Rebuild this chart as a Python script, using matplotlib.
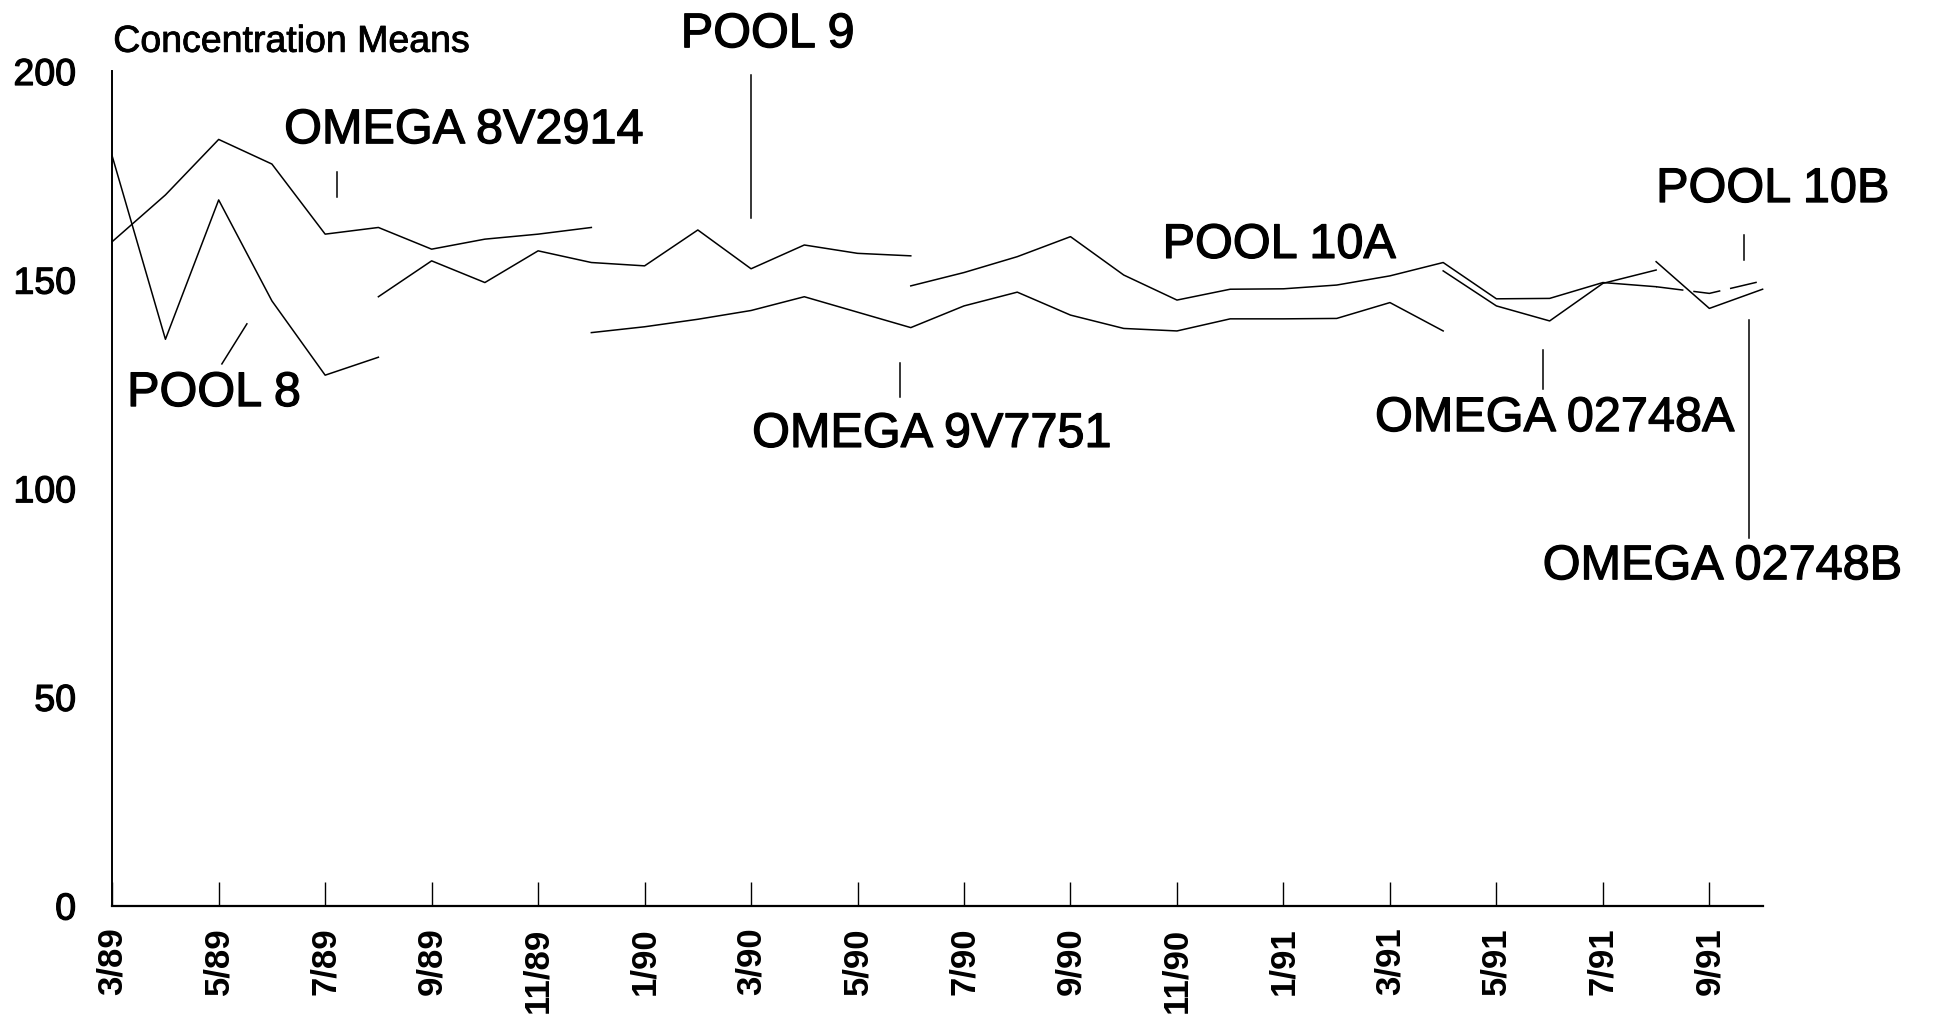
import numpy as np
import matplotlib
matplotlib.use("Agg")
import matplotlib.pyplot as plt
import matplotlib.patheffects as pe

plt.rcParams['font.family'] = ['Liberation Sans', 'DejaVu Sans']

# months counted from 3/89 (index 0) to 10/91 (index 31)
tick_pos = list(range(0, 31, 2))
tick_labels = ["3/89", "5/89", "7/89", "9/89", "11/89", "1/90", "3/90", "5/90",
               "7/90", "9/90", "11/90", "1/91", "3/91", "5/91", "7/91", "9/91"]
y_ticks = [0, 50, 100, 150, 200]

# each series: first month index + monthly means
omega_8v2914_start = 0
omega_8v2914 = [159.1, 170.3, 183.6, 177.7, 160.9, 162.5, 157.3, 159.7, 160.9, 162.5]

pool8_start = 0
pool8 = [179.6, 135.7, 169.1, 144.9, 127.1, 131.4]

pool9_start = 5
pool9 = [145.9, 154.5, 149.3, 156.9, 154.1, 153.3, 161.9, 152.6, 158.3, 156.3, 155.7]

omega_9v7751_start = 9
omega_9v7751 = [137.3, 138.7, 140.5, 142.6, 145.9, 142.2, 138.5, 143.7, 147.0,
                141.5, 138.3, 137.7, 140.6, 140.6, 140.7, 144.5, 137.7]

pool10a_start = 15
pool10a = [148.5, 151.7, 155.5, 160.3, 151.1, 145.1, 147.7, 147.8, 148.7, 150.9,
           154.1, 145.4, 145.5, 149.3, 148.3]

pool10b_start = 29
pool10b = [148.3, 146.7, 149.7]

omega_02748a_start = 25
omega_02748a = [152.1, 143.7, 140.1, 149.1, 152.3]

omega_02748b_start = 29
omega_02748b = [154.3, 143.1, 147.7]

series = [
    (omega_8v2914_start, omega_8v2914, "-"),
    (pool8_start, pool8, "-"),
    (pool9_start, pool9, "-"),
    (omega_9v7751_start, omega_9v7751, "-"),
    (pool10a_start, pool10a, "-"),
    (pool10b_start, pool10b, (0, (18, 6.5))),
    (omega_02748a_start, omega_02748a, "-"),
    (omega_02748b_start, omega_02748b, "-"),
]

# labels: text, left x, baseline y
labels = [
    ("OMEGA 8V2914", 3.23, 182.7),
    ("POOL 8", 0.28, 119.7),
    ("POOL 9", 10.68, 205.7),
    ("OMEGA 9V7751", 12.02, 109.9),
    ("POOL 10A", 19.73, 155.2),
    ("POOL 10B", 29.0, 168.6),
    ("OMEGA 02748A", 23.72, 113.7),
    ("OMEGA 02748B", 26.87, 78.2),
]
# leader lines: (x0, y0, x1, y1)
leaders = [
    (4.22, 175.8, 4.22, 169.8),
    (2.53, 139.4, 2.06, 129.8),
    (12.0, 199.0, 12.0, 164.8),
    (14.8, 130.1, 14.8, 121.8),
    (30.65, 160.7, 30.65, 154.7),
    (26.87, 133.1, 26.87, 123.7),
    (30.74, 140.3, 30.74, 88.0),
]

# slightly heavier text, like the original's medium weight
heavy = [pe.withStroke(linewidth=0.9, foreground="black")]

W, H = 1934, 1016
fig = plt.figure(figsize=(W / 100, H / 100), dpi=100)
ax = fig.add_axes([112.2 / W, 110.5 / H, 1650.4 / W, 834.5 / H])

for start, vals, ls in series:
    x = np.arange(start, start + len(vals))
    ax.plot(x, vals, color="black", lw=1.1, linestyle=ls, clip_on=False)

for x0, y0, x1, y1 in leaders:
    ax.plot([x0, x1], [y0, y1], color="black", lw=1.1, clip_on=False)

for txt, x, y in labels:
    ax.text(x, y, txt, fontsize=35, ha="left", va="baseline", clip_on=False,
            path_effects=heavy)

ax.text(0.02, 204.6, "Concentration Means", fontsize=27, ha="left", va="baseline",
        path_effects=[pe.withStroke(linewidth=0.6, foreground="black")])

ax.set_xlim(0, 31)
ax.set_ylim(0, 200)
ax.spines["top"].set_visible(False)
ax.spines["right"].set_visible(False)
ax.spines["left"].set_linewidth(1.4)
ax.spines["bottom"].set_linewidth(1.6)

ax.set_xticks(tick_pos)
ax.set_xticklabels(tick_labels, rotation=90, fontsize=25, fontweight="bold")
ax.tick_params(axis="x", direction="in", length=17, width=1.0, pad=16)
ax.set_yticks(y_ticks)
ax.set_yticklabels([str(v) for v in y_ticks], fontsize=27)
for t in ax.get_yticklabels():
    t.set_path_effects(heavy)
ax.tick_params(axis="y", length=0, pad=26)

fig.savefig("out.png", dpi=100, facecolor="white")
